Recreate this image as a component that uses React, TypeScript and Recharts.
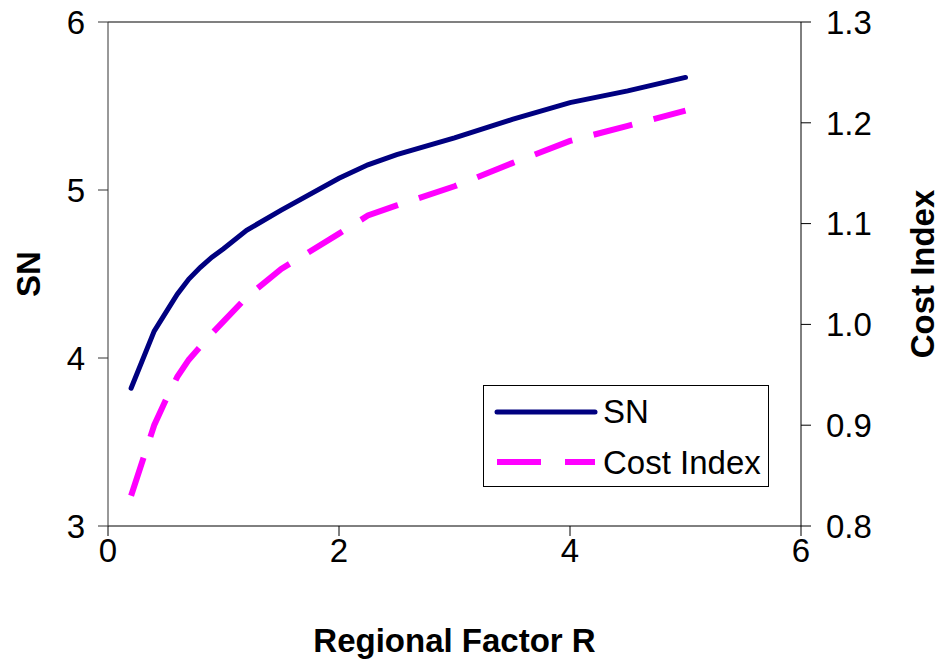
import { LineChart, Line, XAxis, YAxis, Legend, ReferenceLine, Label } from "recharts";

// Regional factor R (x) and the two curves
const rValues = [0.2, 0.4, 0.5, 0.6, 0.7, 0.8, 0.9, 1.0, 1.2, 1.5, 2.0, 2.25, 2.5, 3.0, 3.5, 4.0, 4.5, 5.0];
const snValues = [3.82, 4.16, 4.27, 4.38, 4.47, 4.54, 4.6, 4.65, 4.76, 4.88, 5.07, 5.15, 5.21, 5.31, 5.42, 5.52, 5.59, 5.67];
const costIndex = [0.83, 0.9, 0.925, 0.948, 0.965, 0.978, 0.991, 1.003, 1.027, 1.055, 1.09, 1.108, 1.118, 1.137, 1.16, 1.182, 1.197, 1.212];

const xTicks = [0, 2, 4, 6];
const snTicks = [3, 4, 5, 6];
const ciTicks = [0.8, 0.9, 1.0, 1.1, 1.2, 1.3];

const data = rValues.map((r, i) => ({ r, sn: snValues[i], ci: costIndex[i] }));

const FONT = "'Liberation Sans', Arial, sans-serif";
const tickStyle = { fill: "#000", fontSize: 33, fontFamily: FONT };
const titleStyle = { fill: "#000", fontSize: 33, fontWeight: 700, fontFamily: FONT };

function LegendBox() {
  return (
    <svg width={286} height={102} style={{ display: "block", background: "#fff", border: "1px solid #000", boxSizing: "border-box" }}>
      <line x1={13} y1={26} x2={111} y2={26} stroke="#000080" strokeWidth={5} strokeLinecap="round" />
      <text x={119} y={37} fontSize={33} fontFamily={FONT} fill="#000">SN</text>
      <line x1={13} y1={76} x2={111} y2={76} stroke="#FF00FF" strokeWidth={6} strokeDasharray="44 24" />
      <text x={119} y={88} fontSize={33} fontFamily={FONT} fill="#000">Cost Index</text>
    </svg>
  );
}

export default function App() {
  // pin the chart to the page corner so it covers the whole 941x660 window
  return (
    <div style={{ position: "absolute", left: 0, top: 0, width: 941, height: 660 }}>
      <LineChart width={941} height={660} data={data} margin={{ top: 22, right: 0, bottom: 0, left: 0 }}>
        <XAxis
          dataKey="r"
          type="number"
          domain={[0, 6]}
          ticks={xTicks}
          height={134}
          stroke="#000"
          tickSize={10}
          tickMargin={3}
          tick={tickStyle}
        >
          <Label value="Regional Factor R" position="center" dy={47} style={titleStyle} />
        </XAxis>
        <YAxis
          yAxisId="left"
          domain={[3, 6]}
          ticks={snTicks}
          width={108}
          stroke="#333"
          tickSize={10}
          tickMargin={13}
          tick={tickStyle}
        >
          <Label value="SN" angle={-90} position="center" dx={-26} style={titleStyle} />
        </YAxis>
        <YAxis
          yAxisId="right"
          orientation="right"
          domain={[0.8, 1.3]}
          ticks={ciTicks}
          tickFormatter={(v: number) => v.toFixed(1)}
          width={140}
          stroke="#000"
          tickSize={10}
          tickMargin={15}
          tick={tickStyle}
        >
          <Label value="Cost Index" angle={-90} position="center" dx={51} style={titleStyle} />
        </YAxis>
        <ReferenceLine yAxisId="left" y={6} stroke="#808080" strokeWidth={2} />
        <Legend
          layout="vertical"
          align="center"
          verticalAlign="middle"
          content={() => <LegendBox />}
          wrapperStyle={{ left: 483, top: 385, width: 286, height: 102 }}
        />
        <Line
          yAxisId="left"
          type="linear"
          dataKey="sn"
          name="SN"
          stroke="#000080"
          strokeWidth={5}
          strokeLinecap="round"
          dot={false}
          isAnimationActive={false}
        />
        <Line
          yAxisId="right"
          type="linear"
          dataKey="ci"
          name="Cost Index"
          stroke="#FF00FF"
          strokeWidth={6}
          strokeDasharray="40 22"
          dot={false}
          isAnimationActive={false}
        />
      </LineChart>
    </div>
  );
}
